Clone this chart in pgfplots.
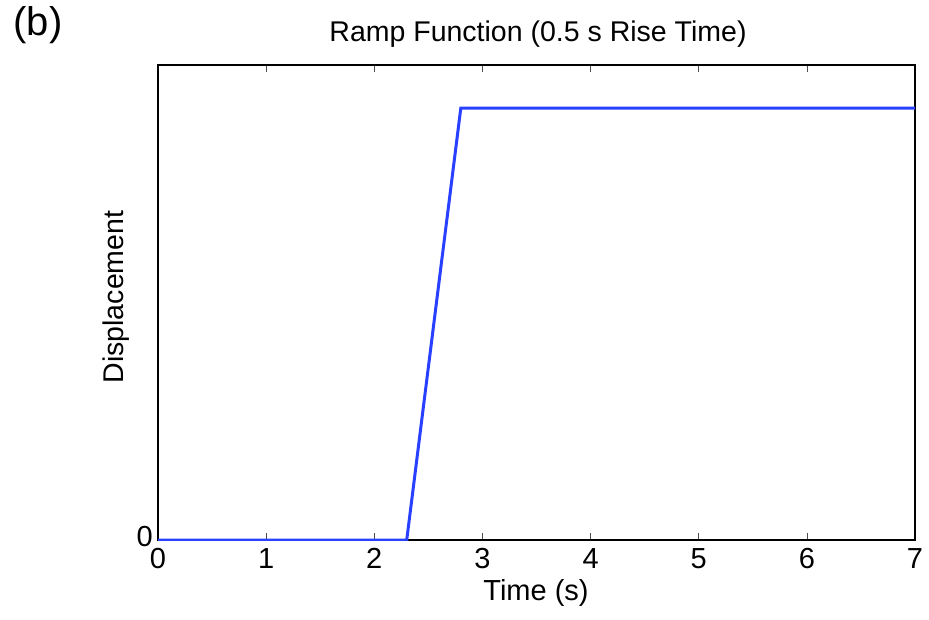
\documentclass[border=0pt]{standalone}
\usepackage{pgfplots}
\pgfplotsset{compat=1.18}
\usepackage{fontspec}
\setmainfont{Liberation Sans}
\definecolor{rampblue}{RGB}{40,64,255}
\begin{document}
\begin{tikzpicture}[x=1pt,y=1pt]
\path[use as bounding box] (0,0) rectangle (929,619);
\begin{axis}[
  at={(158pt,79pt)}, anchor=south west,
  scale only axis, width=757pt, height=475pt,
  xmin=0, xmax=7, ymin=0, ymax=1.1,
  xtick={0,1,2,3,4,5,6,7}, ytick={0},
  tick align=inside, major tick length=7pt,
  xtick pos=both, ytick pos=left,
  axis line style={line width=1.2pt},
  tick style={line width=0.6pt, black!70},
  tick label style={font=\fontsize{29}{32}\selectfont},
  /pgf/number format/assume math mode=true,
  xticklabel style={inner sep=2pt, yshift=-6pt},
  yticklabel style={inner sep=2pt, xshift=-3pt, yshift=3pt},
]
\addplot[rampblue, line width=3pt] coordinates {(0,0) (2.3,0) (2.8,1) (7,1)};
\end{axis}
\node[font=\fontsize{40}{44}\selectfont] at (38,594) {(b)};
\node[font=\fontsize{28.5}{32}\selectfont] at (538,585) {Ramp Function (0.5 s Rise Time)};
\node[font=\fontsize{29}{32}\selectfont] at (536,26) {Time (s)};
\node[font=\fontsize{28.5}{32}\selectfont, rotate=90] at (116,322) {Displacement};
\end{tikzpicture}
\end{document}
